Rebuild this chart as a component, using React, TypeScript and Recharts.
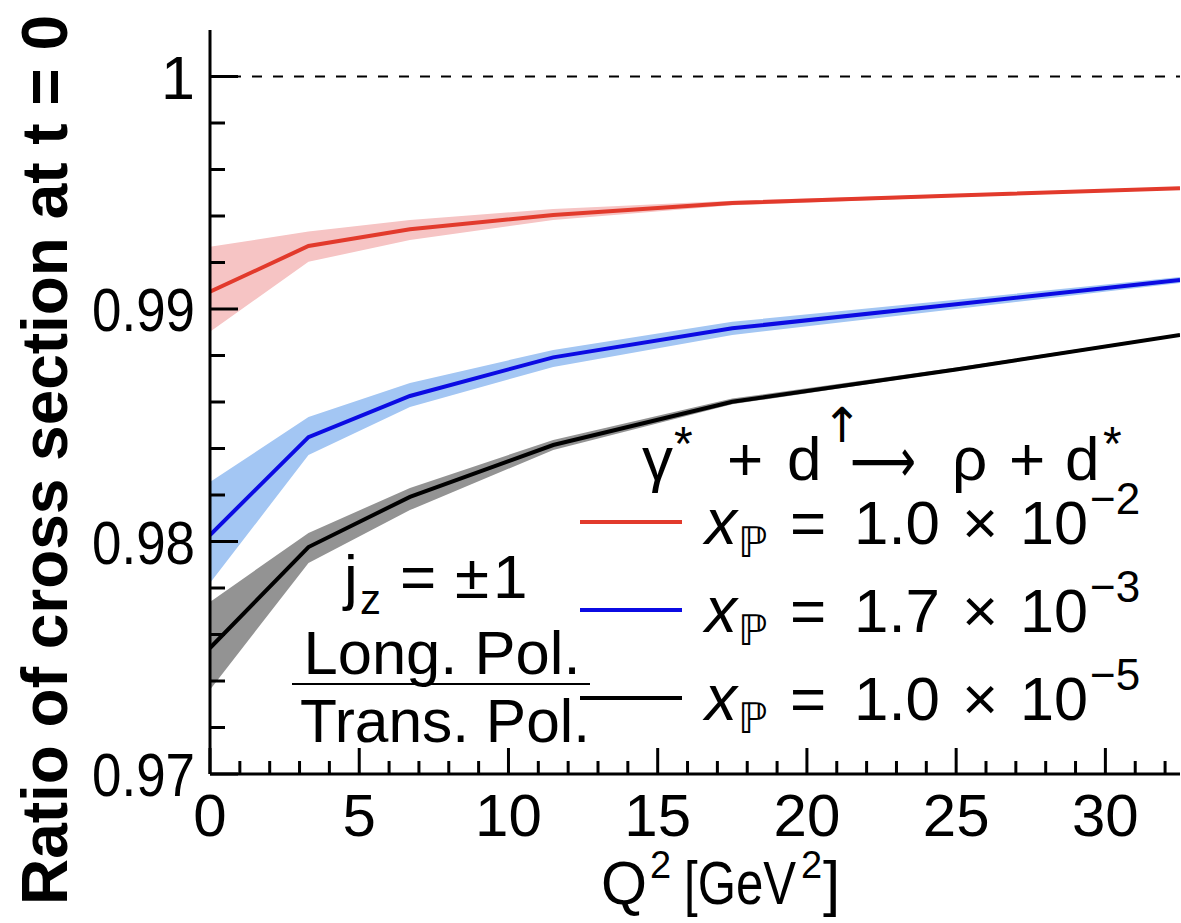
import React from "react";
import { ComposedChart, Area, Line, XAxis, YAxis, ReferenceLine, Legend } from "recharts";

// Q^2 grid (GeV^2)
const q2 = [0, 3.3, 6.7, 11.5, 17.5, 25, 32.5];

// x_P = 1.0e-2
const redMid = [0.99074, 0.99271, 0.99343, 0.99404, 0.99456, 0.99488, 0.99519];
const redLow = [0.98902, 0.99203, 0.99297, 0.99383, 0.99446, 0.99482, 0.99514];
const redHigh = [0.99268, 0.99333, 0.99383, 0.9943, 0.99466, 0.99494, 0.99524];

// x_P = 1.7e-3
const blueMid = [0.98028, 0.98449, 0.98626, 0.98792, 0.98917, 0.9902, 0.99125];
const blueLow = [0.97821, 0.98372, 0.98579, 0.98751, 0.98888, 0.99, 0.99112];
const blueHigh = [0.98256, 0.98535, 0.98682, 0.98824, 0.98945, 0.9904, 0.99138];

// x_P = 1.0e-5
const blackMid = [0.97542, 0.97976, 0.98192, 0.98415, 0.98601, 0.9874, 0.98888];
const blackLow = [0.97362, 0.97908, 0.98135, 0.98394, 0.9859, 0.98733, 0.98883];
const blackHigh = [0.9774, 0.98037, 0.9823, 0.98437, 0.98615, 0.98748, 0.98894];

const xTicks = [0, 1, 2, 3, 4, 5, 6, 7, 8, 9, 10, 11, 12, 13, 14, 15, 16, 17, 18, 19, 20, 21, 22, 23, 24, 25, 26, 27, 28, 29, 30, 31, 32];
const yTicks = [0.97, 0.972, 0.974, 0.976, 0.978, 0.98, 0.982, 0.984, 0.986, 0.988, 0.99, 0.992, 0.994, 0.996, 0.998, 1];

const seriesOrder = ["red", "blue", "black"];
const legendMantissa = ["1.0", "1.7", "1.0"];
const legendExponent = ["\u22122", "\u22123", "\u22125"];

const data = q2.map((q, i) => ({
  q2: q,
  red: redMid[i],
  redBand: [redLow[i], redHigh[i]],
  blue: blueMid[i],
  blueBand: [blueLow[i], blueHigh[i]],
  black: blackMid[i],
  blackBand: [blackLow[i], blackHigh[i]],
}));

const FONT = '"Liberation Sans", Arial, Helvetica, sans-serif';
const SYM = '"DejaVu Sans", sans-serif';
const isMajorX = (v: number) => v % 5 === 0;
const isMajorY = (v: number) => Math.abs(v * 100 - Math.round(v * 100)) < 1e-6;

const BottomTick = ({ x, y, payload }: any) => {
  const major = isMajorX(payload.value);
  return (
    <g>
      <line x1={x} x2={x} y1={y} y2={y - (major ? 26 : 13)} stroke="#000" strokeWidth={3} />
      {major && (
        <text x={x} y={y + 62} textAnchor="middle" fontSize={60} fontFamily={FONT} fill="#000">
          {payload.value}
        </text>
      )}
    </g>
  );
};

const TopTick = ({ x, y, payload }: any) => {
  const major = isMajorX(payload.value);
  return <line x1={x} x2={x} y1={y} y2={y + (major ? 24 : 12)} stroke="#000" strokeWidth={3} />;
};

const LeftTick = ({ x, y, payload }: any) => {
  const major = isMajorY(payload.value);
  const label = payload.value === 1 ? "1" : payload.value.toFixed(2);
  return (
    <g>
      <line x1={x} x2={x + (major ? 28 : 15)} y1={y} y2={y} stroke="#000" strokeWidth={3} />
      {major && (
        <text
          x={x - 15}
          y={y + 22}
          textAnchor="end"
          fontSize={61}
          fontFamily={FONT}
          fill="#000"
          {...(label.length > 1 ? { textLength: 103, lengthAdjust: "spacingAndGlyphs" } : {})}
        >
          {label}
        </text>
      )}
    </g>
  );
};

const RightTick = ({ x, y, payload }: any) => {
  const major = isMajorY(payload.value);
  return <line x1={x} x2={x - (major ? 26 : 12)} y1={y} y2={y} stroke="#000" strokeWidth={3} />;
};

// legend box sits at left 580, top 430 of the chart
const LegendBox = ({ payload }: any) => {
  const byKey: Record<string, any> = {};
  (payload || []).forEach((p: any) => {
    byKey[p.dataKey] = p;
  });
  return (
    <svg width={600} height={300} style={{ overflow: "visible", display: "block" }}>
      <g fontSize={62} fontFamily={FONT} fill="#000">
        <text x={62} y={50}>{"\u03b3"}</text>
        <text x={94} y={30} fontSize={48}>*</text>
        <text x={147} y={50}>+</text>
        <text x={207} y={50}>d</text>
        <text x={242} y={12} fontSize={48} fontFamily={SYM}>{"\u2191"}</text>
        <text x={270} y={52} fontSize={62} fontFamily={SYM} textLength={66} lengthAdjust="spacingAndGlyphs">{"\u27f6"}</text>
        <text x={372} y={50}>{"\u03c1"}</text>
        <text x={429} y={50}>+</text>
        <text x={485} y={50}>d</text>
        <text x={523} y={30} fontSize={48}>*</text>
      </g>
      {seriesOrder.map((key, i) => {
        const p = byKey[key];
        const cy = 92 + i * 88;
        return (
          <g key={key} fontFamily={FONT} fill="#000">
            <line x1={0} x2={102} y1={cy} y2={cy} stroke={p ? p.color : "#000"} strokeWidth={4} />
            <text x={125} y={cy + 22} fontSize={64} fontStyle="italic">x</text>
            <text x={158} y={cy + 35} fontSize={42} fontFamily={SYM}>{"\u2119"}</text>
            <text x={210} y={cy + 22} fontSize={62}>=</text>
            <text x={274} y={cy + 22} fontSize={62} textLength={86} lengthAdjust="spacingAndGlyphs">{legendMantissa[i]}</text>
            <text x={382} y={cy + 22} fontSize={62}>{"\u00d7"}</text>
            <text x={440} y={cy + 22} fontSize={62} textLength={68} lengthAdjust="spacingAndGlyphs">10</text>
            <text x={510} y={cy - 8} fontSize={44}>{legendExponent[i]}</text>
          </g>
        );
      })}
    </svg>
  );
};

export default function App() {
  return (
    <div style={{ position: "absolute", left: 0, top: 0, width: 1181, height: 923, background: "#fff" }}>
      <ComposedChart width={1181} height={923} data={data} margin={{ top: 30, right: 1, bottom: 0, left: 0 }}>
        <XAxis
          dataKey="q2"
          type="number"
          domain={[0, 32.5]}
          ticks={xTicks}
          interval={0}
          allowDataOverflow
          height={149}
          tickSize={0}
          tickMargin={0}
          tick={<BottomTick />}
          axisLine={{ stroke: "#000", strokeWidth: 3 }}
          tickLine={false}
        />
        <XAxis
          xAxisId="top"
          orientation="top"
          type="number"
          domain={[0, 32.5]}
          ticks={xTicks}
          interval={0}
          allowDataOverflow
          height={0}
          tickSize={0}
          tickMargin={0}
          tick={<TopTick />}
          axisLine={{ stroke: "#000", strokeWidth: 3 }}
          tickLine={false}
        />
        <YAxis
          type="number"
          domain={[0.97, 1.002]}
          ticks={yTicks}
          interval={0}
          allowDataOverflow
          width={210}
          tickSize={0}
          tickMargin={0}
          tick={<LeftTick />}
          axisLine={{ stroke: "#000", strokeWidth: 3 }}
          tickLine={false}
        />
        <YAxis
          yAxisId="right"
          orientation="right"
          type="number"
          domain={[0.97, 1.002]}
          ticks={yTicks}
          interval={0}
          allowDataOverflow
          width={0}
          tickSize={0}
          tickMargin={0}
          tick={<RightTick />}
          axisLine={{ stroke: "#000", strokeWidth: 3 }}
          tickLine={false}
        />
        <ReferenceLine y={1} stroke="#000" strokeWidth={2} strokeDasharray="10 11" />
        <Area dataKey="redBand" type="linear" fill="#f6c4c4" fillOpacity={1} stroke="none" legendType="none" isAnimationActive={false} />
        <Area dataKey="blueBand" type="linear" fill="#a3c6f3" fillOpacity={1} stroke="none" legendType="none" isAnimationActive={false} />
        <Area dataKey="blackBand" type="linear" fill="#939393" fillOpacity={1} stroke="none" legendType="none" isAnimationActive={false} />
        <Line dataKey="red" name="x_P = 1.0e-2" type="linear" stroke="#e23a2c" strokeWidth={4} dot={false} isAnimationActive={false} />
        <Line dataKey="blue" name="x_P = 1.7e-3" type="linear" stroke="#0b0be3" strokeWidth={4} dot={false} isAnimationActive={false} />
        <Line dataKey="black" name="x_P = 1.0e-5" type="linear" stroke="#000" strokeWidth={4} dot={false} isAnimationActive={false} />
        <Legend
          layout="horizontal"
          verticalAlign="middle"
          align="center"
          content={<LegendBox />}
          wrapperStyle={{ left: 580, top: 430, width: 600, height: 300 }}
        />
      </ComposedChart>

      <svg width={1181} height={923} style={{ position: "absolute", left: 0, top: 0, pointerEvents: "none" }}>
        <text
          transform="translate(67,460) rotate(-90)"
          textAnchor="middle"
          fontSize={64}
          fontWeight="bold"
          fontFamily={FONT}
          fill="#000"
          textLength={890}
          lengthAdjust="spacingAndGlyphs"
        >
          Ratio of cross section at t = 0
        </text>
        <g fontFamily={FONT} fill="#000">
          <text x={601} y={904} fontSize={62} textLength={46} lengthAdjust="spacingAndGlyphs">Q</text>
          <text x={650} y={878} fontSize={38}>2</text>
          <text x={684} y={904} fontSize={62} textLength={112} lengthAdjust="spacingAndGlyphs">[GeV</text>
          <text x={801} y={878} fontSize={38}>2</text>
          <text x={823} y={904} fontSize={62}>]</text>
        </g>
        <g fontFamily={FONT} fill="#000">
          <text x={344} y={598} fontSize={62}>j</text>
          <text x={360} y={614} fontSize={42}>z</text>
          <text x={400} y={598} fontSize={62}>=</text>
          <text x={455} y={598} fontSize={62}>±</text>
          <text x={493} y={598} fontSize={62}>1</text>
          <text x={442} y={674} textAnchor="middle" fontSize={62} textLength={277} lengthAdjust="spacingAndGlyphs">
            Long. Pol.
          </text>
          <line x1={292} x2={590} y1={684} y2={684} stroke="#000" strokeWidth={2} />
          <text x={445} y={742} textAnchor="middle" fontSize={62} textLength={290} lengthAdjust="spacingAndGlyphs">
            Trans. Pol.
          </text>
        </g>
      </svg>
    </div>
  );
}
